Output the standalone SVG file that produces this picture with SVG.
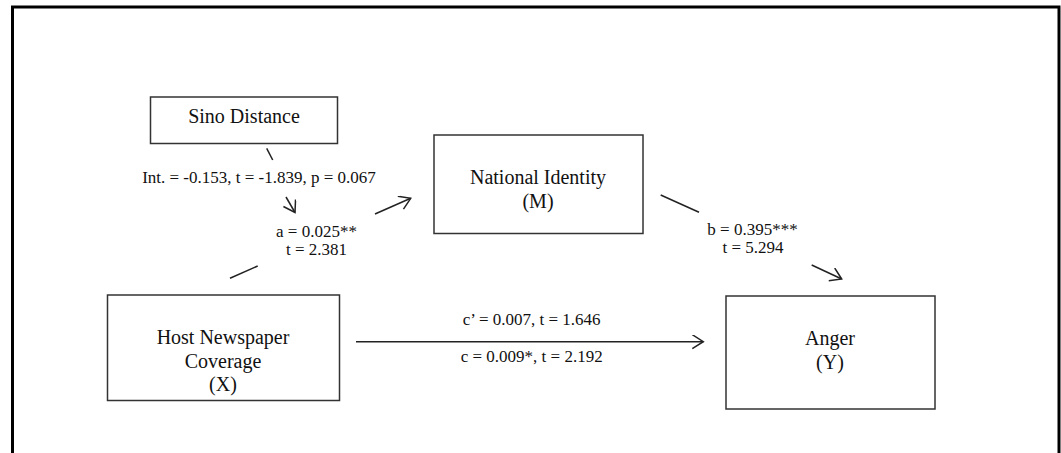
<svg xmlns="http://www.w3.org/2000/svg" width="1061" height="453" viewBox="0 0 1061 453">
<defs>
<style>
.box{fill:#fff;stroke:#333;stroke-width:1.5}
.ln{stroke:#222;stroke-width:1.5;fill:none}
.n{font-family:"Liberation Serif","Times New Roman",serif;font-size:20px;fill:#111;text-anchor:middle}
.l{font-family:"Liberation Serif","Times New Roman",serif;font-size:17px;fill:#111;text-anchor:middle}
</style>
<marker id="arr" markerWidth="14" markerHeight="16" refX="12" refY="7" orient="auto" markerUnits="userSpaceOnUse">
<path d="M1,0 L12,7 L1,14" fill="none" stroke="#222" stroke-width="1.5"/>
</marker>
</defs>
<rect width="1061" height="453" fill="#fff"/>
<path d="M12.5,453 V7 H1059 V453" fill="none" stroke="#000" stroke-width="3"/>
<g id="sino">
<rect class="box" x="150.5" y="97" width="187" height="46.5"/>
<text class="n" x="244" y="123">Sino Distance</text>
</g>
<g id="national">
<rect class="box" x="434" y="135" width="209" height="98.5"/>
<text class="n" x="538" y="184">National Identity</text>
<text class="n" x="538" y="208">(M)</text>
</g>
<g id="host">
<rect class="box" x="107.5" y="295" width="232" height="105.5"/>
<text class="n" x="223" y="344">Host Newspaper</text>
<text class="n" x="223" y="367.5">Coverage</text>
<text class="n" x="223" y="391">(X)</text>
</g>
<g id="anger">
<rect class="box" x="726" y="296" width="209" height="113"/>
<text class="n" x="830" y="345">Anger</text>
<text class="n" x="830" y="369">(Y)</text>
</g>
<g id="connectors">
<line class="ln" x1="266.7" y1="148.3" x2="272.7" y2="160"/>
<line class="ln" x1="286" y1="197" x2="295" y2="212.5" marker-end="url(#arr)"/>
<line class="ln" x1="230" y1="278.3" x2="257.7" y2="266"/>
<line class="ln" x1="375" y1="214" x2="410.7" y2="198.3" marker-end="url(#arr)"/>
<line class="ln" x1="660.7" y1="195" x2="699" y2="212.3"/>
<line class="ln" x1="811.7" y1="265" x2="841.7" y2="279" marker-end="url(#arr)"/>
<line class="ln" x1="356" y1="341.7" x2="703.3" y2="341.7" marker-end="url(#arr)"/>
</g>
<g id="labels">
<text class="l" x="259" y="183.3">Int. = -0.153, t = -1.839, p = 0.067</text>
<text class="l" x="316.5" y="236.7">a = 0.025**</text>
<text class="l" x="316.5" y="255">t = 2.381</text>
<text class="l" x="752.5" y="235">b = 0.395***</text>
<text class="l" x="753" y="253.3">t = 5.294</text>
<text class="l" x="531.7" y="325">c’ = 0.007, t = 1.646</text>
<text class="l" x="531.7" y="361.7">c = 0.009*, t = 2.192</text>
</g>
</svg>
